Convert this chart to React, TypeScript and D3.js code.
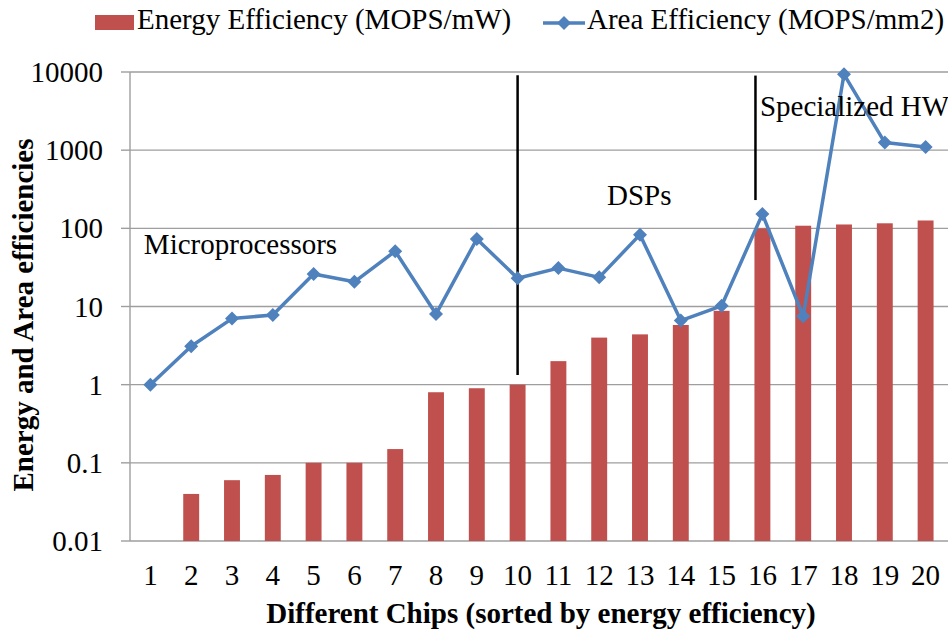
import React from 'react';
import { scaleLog, scalePoint, line } from 'd3';

const width = 948;
const height = 633;

const chips = ['1', '2', '3', '4', '5', '6', '7', '8', '9', '10', '11', '12', '13', '14', '15', '16', '17', '18', '19', '20'];
// energy efficiency (MOPS/mW); chip 1 has no visible bar
const energy = [null, 0.04, 0.06, 0.07, 0.1, 0.1, 0.15, 0.8, 0.9, 1, 2, 4, 4.4, 5.8, 8.8, 100, 108, 112, 116, 126];
// area efficiency (MOPS/mm2)
const area = [1, 3.1, 7, 7.8, 26, 20.7, 51, 8, 73, 23, 31, 23.6, 83, 6.6, 10.2, 152, 7.5, 9350, 1250, 1100];
const yTicks = [0.01, 0.1, 1, 10, 100, 1000, 10000];
const yTickLabels = ['0.01', '0.1', '1', '10', '100', '1000', '10000'];

// group dividers, in chip units and value range
const dividers = [
  { chip: 10, from: 9100, to: 1.33 },
  { chip: 15.83, from: 9000, to: 230 },
];
const groupLabels = [
  { text: 'Microprocessors', chip: 0.84, value: 47 },
  { text: 'DSPs', chip: 12.19, value: 200 },
  { text: 'Specialized HW', chip: 15.94, value: 2720 },
];

const font = '"Liberation Serif", "Times New Roman", serif';
const red = '#C0504D';
const blue = '#4F81BD';
const grid = '#9e9e9e';
const fs = 29;

const left = 130;
const right = 946;
const top = 72;
const bottom = 541;

const x = scalePoint<string>().domain(chips).range([left, right]).padding(0.5);
const step = x.step();
const barW = step * 0.39;
const y = scaleLog().domain([0.01, 10000]).range([bottom, top]);
const xChip = (c: number) => (x('1') as number) + (c - 1) * step;

const diamond = (cx: number, cy: number, r: number) =>
  `M${cx},${cy - r}L${cx + r},${cy}L${cx},${cy + r}L${cx - r},${cy}Z`;

const App = () => {
  const areaLine = line<number>()
    .x((_, i) => x(chips[i]) as number)
    .y((d) => y(d));

  return (
    <svg width={width} height={height} style={{ position: 'absolute', left: 0, top: 0 }} fontFamily={font}>
      {/* gridlines */}
      {yTicks.map((t) => (
        <line key={t} x1={left} x2={width} y1={y(t)} y2={y(t)} stroke={grid} strokeWidth={1.4} />
      ))}
      {/* y axis */}
      <line x1={left} x2={left} y1={top} y2={bottom} stroke={grid} strokeWidth={1.4} />
      {yTicks.map((t, i) => (
        <g key={'t' + t}>
          <line x1={left - 9} x2={left} y1={y(t)} y2={y(t)} stroke={grid} strokeWidth={1.4} />
          <text x={103} y={y(t)} dy="0.35em" textAnchor="end" fontSize={fs}>
            {yTickLabels[i]}
          </text>
        </g>
      ))}
      {/* bars */}
      {energy.map((v, i) =>
        v == null ? null : (
          <rect
            key={'b' + i}
            x={(x(chips[i]) as number) - barW / 2}
            y={y(v)}
            width={barW}
            height={bottom - y(v)}
            fill={red}
          />
        )
      )}
      {/* dividers */}
      {dividers.map((d, i) => (
        <line key={'d' + i} x1={xChip(d.chip)} x2={xChip(d.chip)} y1={y(d.from)} y2={y(d.to)} stroke="#000" strokeWidth={2.5} />
      ))}
      {/* area line */}
      <path d={areaLine(area) as string} fill="none" stroke={blue} strokeWidth={3.5} strokeLinejoin="round" />
      {area.map((v, i) => (
        <path key={'m' + i} d={diamond(x(chips[i]) as number, y(v), 7)} fill={blue} />
      ))}
      {/* group labels */}
      {groupLabels.map((g) => (
        <text key={g.text} x={xChip(g.chip)} y={y(g.value)} fontSize={fs}>
          {g.text}
        </text>
      ))}
      {/* x tick labels */}
      {chips.map((c) => (
        <text key={'x' + c} x={x(c) as number} y={585} textAnchor="middle" fontSize={fs}>
          {c}
        </text>
      ))}
      {/* axis titles */}
      <text x={(left + right) / 2 + 3} y={623} textAnchor="middle" fontSize={fs} fontWeight="bold">
        Different Chips (sorted by energy efficiency)
      </text>
      <text transform={`translate(33,${315}) rotate(-90)`} textAnchor="middle" fontSize={fs} fontWeight="bold">
        Energy and Area efficiencies
      </text>
      {/* legend */}
      <rect x={95} y={15} width={39} height={15} fill={red} />
      <text x={137} y={29} fontSize={fs}>
        Energy Efficiency (MOPS/mW)
      </text>
      <line x1={543} x2={585} y1={23} y2={23} stroke={blue} strokeWidth={3.5} />
      <path d={diamond(564, 23, 7)} fill={blue} />
      <text x={587} y={29} fontSize={fs}>
        Area Efficiency (MOPS/mm2)
      </text>
    </svg>
  );
};

export default App;
